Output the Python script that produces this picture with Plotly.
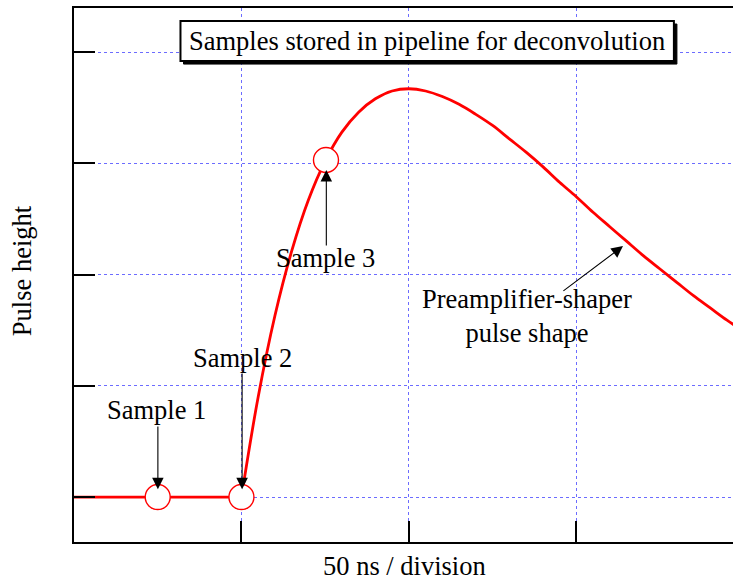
import plotly.graph_objects as go

# --- data (x in divisions of 50 ns, y in arbitrary pulse-height units) ---
baseline_x = [0.0, 1.0]
baseline_y = [0.0, 0.0]
pulse_x = [1.0, 1.1, 1.2, 1.3, 1.4, 1.5, 1.6, 1.7, 1.8, 1.9, 2.0,
           2.1, 2.2, 2.3, 2.4, 2.5, 2.6, 2.7, 2.8, 2.9, 3.0,
           3.1, 3.2, 3.3, 3.4, 3.5, 3.6, 3.7, 3.8, 3.9, 4.0]
pulse_y = [0.0, 0.90, 1.63, 2.21, 2.67, 3.02, 3.28, 3.46, 3.58, 3.65, 3.67,
           3.65, 3.60, 3.53, 3.44, 3.34, 3.22, 3.10, 2.97, 2.83, 2.70,
           2.56, 2.43, 2.30, 2.17, 2.05, 1.93, 1.81, 1.70, 1.59, 1.49]
sample_x = [0.5, 1.0, 1.505]
sample_y = [0.0, 0.0, 3.03]
sample_labels = ["Sample 1", "Sample 2", "Sample 3"]
x_ticks = [0, 1, 2, 3]
y_ticks = [0, 1, 2, 3, 4]

FONT = "Liberation Serif, Times New Roman, serif"
FS = 26.5
RED = "#ff0000"
GRID = "#6c6cff"

fig = go.Figure()
fig.add_trace(go.Scatter(x=baseline_x, y=baseline_y, mode="lines",
                         line=dict(color=RED, width=2.8), showlegend=False))
fig.add_trace(go.Scatter(x=pulse_x, y=pulse_y, mode="lines",
                         line=dict(color=RED, width=2.8, shape="spline", smoothing=1.0),
                         showlegend=False))
fig.add_trace(go.Scatter(x=sample_x, y=sample_y, mode="markers",
                         marker=dict(symbol="circle", size=25, color="white",
                                     line=dict(color=RED, width=1.4)),
                         showlegend=False))

ann = []
# label texts
label_pos = [(0.493, 0.78), (1.007, 1.25), (1.503, 2.15)]
for (lx, ly), t in zip(label_pos, sample_labels):
    ann.append(dict(x=lx, y=ly, xref="x", yref="y", text=t, showarrow=False,
                    font=dict(family=FONT, size=FS, color="black"),
                    xanchor="center", yanchor="middle"))
ann.append(dict(x=2.705, y=1.627, xref="x", yref="y",
                text="Preamplifier-shaper<br>pulse shape", showarrow=False,
                font=dict(family=FONT, size=FS, color="black"),
                xanchor="center", yanchor="middle"))

# arrows (tail -> tip)
arrows = [((0.501, 0.647), (0.501, 0.07)),
          ((1.004, 1.124), (1.004, 0.07)),
          ((1.507, 2.247), (1.507, 2.94)),
          ((2.914, 1.843), (3.279, 2.256))]
for (tx, ty), (hx, hy) in arrows:
    ann.append(dict(x=hx, y=hy, ax=tx, ay=ty, xref="x", yref="y",
                    axref="x", ayref="y", text="", showarrow=True,
                    arrowhead=2, arrowsize=2.1, arrowwidth=1.1,
                    arrowcolor="black"))

# title box text
ann.append(dict(x=2.110, y=4.099, xref="x", yref="y",
                text="Samples stored in pipeline for deconvolution",
                showarrow=False, font=dict(family=FONT, size=FS, color="black"),
                xanchor="center", yanchor="middle"))

# axis titles
ann.append(dict(x=0.502, y=-0.045, xref="paper", yref="paper",
                text="50 ns / division", showarrow=False,
                font=dict(family=FONT, size=FS, color="black"),
                xanchor="center", yanchor="middle"))
ann.append(dict(x=-0.079, y=0.509, xref="paper", yref="paper",
                text="Pulse height", showarrow=False, textangle=-90,
                font=dict(family=FONT, size=FS, color="black"),
                xanchor="center", yanchor="middle"))

shapes = [
    # shadow
    dict(type="rect", xref="x", yref="y", x0=0.654, x1=3.601, y0=3.892, y1=4.252,
         fillcolor="black", line=dict(color="black", width=1), layer="above"),
    # box
    dict(type="rect", xref="x", yref="y", x0=0.636, x1=3.583, y0=3.919, y1=4.279,
         fillcolor="white", line=dict(color="black", width=2), layer="above"),
]

fig.update_layout(
    width=733, height=582,
    margin=dict(l=74, r=0, t=8, b=40),
    paper_bgcolor="white", plot_bgcolor="white",
    annotations=ann, shapes=shapes,
    xaxis=dict(range=[0, 3.936], tickvals=x_ticks, showticklabels=False,
               ticks="inside", ticklen=21, tickwidth=2, tickcolor="black",
               showline=True, linecolor="black", linewidth=2, mirror=True,
               showgrid=True, gridcolor=GRID, griddash="dot", gridwidth=1,
               zeroline=False),
    yaxis=dict(range=[-0.404, 4.396], tickvals=y_ticks, showticklabels=False,
               ticks="inside", ticklen=21, tickwidth=2, tickcolor="black",
               showline=True, linecolor="black", linewidth=2, mirror=False,
               showgrid=True, gridcolor=GRID, griddash="dot", gridwidth=1,
               zeroline=False),
)

fig.write_html("out.html")
